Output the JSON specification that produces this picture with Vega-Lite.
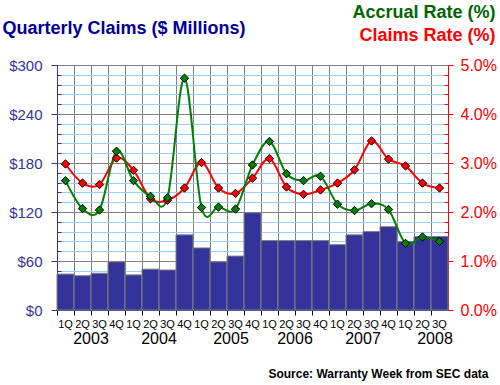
{
  "$schema": "https://vega.github.io/schema/vega-lite/v6.json",
  "width": 391,
  "height": 245,
  "autosize": "none",
  "padding": {"left": 57, "top": 65, "right": 52, "bottom": 75},
  "background": "white",
  "config": {"view": {"stroke": null}, "font": "Liberation Sans"},
  "data": {
    "values": [
      {"q": "2003-1", "claims": 44, "accrual": 2.64, "claimsRate": 2.98},
      {"q": "2003-2", "claims": 42, "accrual": 2.07, "claimsRate": 2.59},
      {"q": "2003-3", "claims": 45, "accrual": 2.04, "claimsRate": 2.56},
      {"q": "2003-4", "claims": 59, "accrual": 3.24, "claimsRate": 3.10},
      {"q": "2004-1", "claims": 43, "accrual": 2.64, "claimsRate": 2.85},
      {"q": "2004-2", "claims": 50, "accrual": 2.32, "claimsRate": 2.27},
      {"q": "2004-3", "claims": 49, "accrual": 2.29, "claimsRate": 2.24},
      {"q": "2004-4", "claims": 92, "accrual": 4.73, "claimsRate": 2.49},
      {"q": "2005-1", "claims": 76, "accrual": 2.09, "claimsRate": 3.01},
      {"q": "2005-2", "claims": 59, "accrual": 2.10, "claimsRate": 2.49},
      {"q": "2005-3", "claims": 66, "accrual": 2.06, "claimsRate": 2.38},
      {"q": "2005-4", "claims": 119, "accrual": 2.96, "claimsRate": 2.69},
      {"q": "2006-1", "claims": 85, "accrual": 3.44, "claimsRate": 3.09},
      {"q": "2006-2", "claims": 85, "accrual": 2.78, "claimsRate": 2.51},
      {"q": "2006-3", "claims": 85, "accrual": 2.64, "claimsRate": 2.36},
      {"q": "2006-4", "claims": 85, "accrual": 2.73, "claimsRate": 2.45},
      {"q": "2007-1", "claims": 80, "accrual": 2.16, "claimsRate": 2.59},
      {"q": "2007-2", "claims": 92, "accrual": 2.03, "claimsRate": 2.86},
      {"q": "2007-3", "claims": 96, "accrual": 2.17, "claimsRate": 3.45},
      {"q": "2007-4", "claims": 102, "accrual": 2.05, "claimsRate": 3.08},
      {"q": "2008-1", "claims": 84, "accrual": 1.36, "claimsRate": 2.94},
      {"q": "2008-2", "claims": 90, "accrual": 1.49, "claimsRate": 2.59},
      {"q": "2008-3", "claims": 90, "accrual": 1.40, "claimsRate": 2.49}
    ]
  },
  "layer": [
    {
      "mark": {"type": "bar", "color": "#333399", "stroke": "#808080", "strokeWidth": 1},
      "encoding": {
        "x": {
          "field": "q",
          "type": "ordinal",
          "scale": {"paddingInner": 0, "paddingOuter": 0},
          "axis": {
            "orient": "bottom",
            "bandPosition": 0,
            "labelExpr": "substring(datum.value, 5) + 'Q'",
            "labelAngle": 0,
            "labelFontSize": 11,
            "labelColor": "black",
            "labelPadding": 3,
            "labelOverlap": false,
            "tickSize": 5,
            "tickColor": "black",
            "domainColor": "#333399",
            "grid": true,
            "gridColor": "#808080",
            "title": "Source: Warranty Week from SEC data",
            "titleX": 431,
            "titleY": 67,
            "titleAlign": "right",
            "titleBaseline": "alphabetic",
            "titleFontSize": 12,
            "titleFontWeight": "bold",
            "titleColor": "black"
          }
        },
        "y": {
          "field": "claims",
          "type": "quantitative",
          "scale": {"domain": [0, 300], "nice": false},
          "axis": {
            "values": [0, 12, 24, 36, 48, 60, 72, 84, 96, 108, 120, 132, 144, 156, 168, 180, 192, 204, 216, 228, 240, 252, 264, 276, 288, 300],
            "labelExpr": "datum.value % 60 === 0 ? '$' + datum.value : ''",
            "grid": false,
            "domainColor": "#333399",
            "tickColor": "#333399",
            "tickSize": {"condition": {"test": "datum.value % 60 === 0", "value": 6}, "value": -4},
            "labelColor": "#333399",
            "labelFontSize": 15,
            "labelPadding": 9,
            "title": "Quarterly Claims ($ Millions)",
            "titleAngle": 0,
            "titleAlign": "left",
            "titleBaseline": "alphabetic",
            "titleX": -55,
            "titleY": -32,
            "titleFontSize": 18,
            "titleFontWeight": "bold",
            "titleColor": "#000099"
          }
        }
      }
    },
    {
      "transform": [{"fold": ["claimsRate", "accrual"], "as": ["series", "rate"]}],
      "encoding": {
        "x": {
          "field": "q",
          "type": "ordinal",
          "axis": {
            "orient": "bottom",
            "values": ["2003-3", "2004-3", "2005-3", "2006-3", "2007-3", "2008-3"],
            "labelExpr": "substring(datum.value, 0, 4)",
            "labelAngle": 0,
            "labelOffset": {"condition": {"test": "datum.value == '2008-3' || datum.value == '2005-3'", "value": -4.5}, "value": -8.5},
            "ticks": false,
            "tickSize": 0,
            "domain": false,
            "grid": false,
            "labelFontSize": 16,
            "labelColor": "black",
            "labelPadding": 20,
            "labelBaseline": "top",
            "title": "Accrual Rate (%)",
            "titleX": 438,
            "titleY": -293,
            "titleAlign": "right",
            "titleBaseline": "alphabetic",
            "titleFontSize": 18,
            "titleFontWeight": "bold",
            "titleColor": "#006600"
          }
        },
        "y": {
          "field": "rate",
          "type": "quantitative",
          "scale": {"domain": [0, 5], "nice": false},
          "axis": {
            "orient": "right",
            "values": [0, 0.2, 0.4, 0.6, 0.8, 1, 1.2, 1.4, 1.6, 1.8, 2, 2.2, 2.4, 2.6, 2.8, 3, 3.2, 3.4, 3.6, 3.8, 4, 4.2, 4.4, 4.6, 4.8, 5],
            "labelExpr": "datum.value % 1 === 0 ? format(datum.value, '.1f') + '%' : ''",
            "grid": true,
            "gridColor": {"condition": {"test": "datum.value % 1 === 0", "value": "#808080"}, "value": "#99CCFF"},
            "domainColor": "#FF0000",
            "tickColor": "#FF0000",
            "tickSize": {"condition": {"test": "datum.value % 1 === 0", "value": 5}, "value": -4},
            "labelColor": "#FF0000",
            "labelFontSize": 16,
            "labelPadding": 7,
            "title": "Claims Rate (%)",
            "titleAngle": 0,
            "titleX": 47,
            "titleY": -25,
            "titleAlign": "right",
            "titleBaseline": "alphabetic",
            "titleFontSize": 18,
            "titleFontWeight": "bold",
            "titleColor": "#FF0000"
          }
        },
        "color": {
          "field": "series",
          "type": "nominal",
          "scale": {"domain": ["claimsRate", "accrual"], "range": ["#FF0000", "#008000"]},
          "legend": null
        }
      },
      "layer": [
        {"mark": {"type": "line", "interpolate": "cardinal", "strokeWidth": 2}},
        {"mark": {"type": "point", "shape": "diamond", "filled": true, "size": 70, "stroke": "black", "strokeWidth": 1, "opacity": 1}}
      ]
    }
  ],
  "resolve": {
    "scale": {"y": "independent"},
    "axis": {"y": "independent", "x": "independent"}
  }
}
